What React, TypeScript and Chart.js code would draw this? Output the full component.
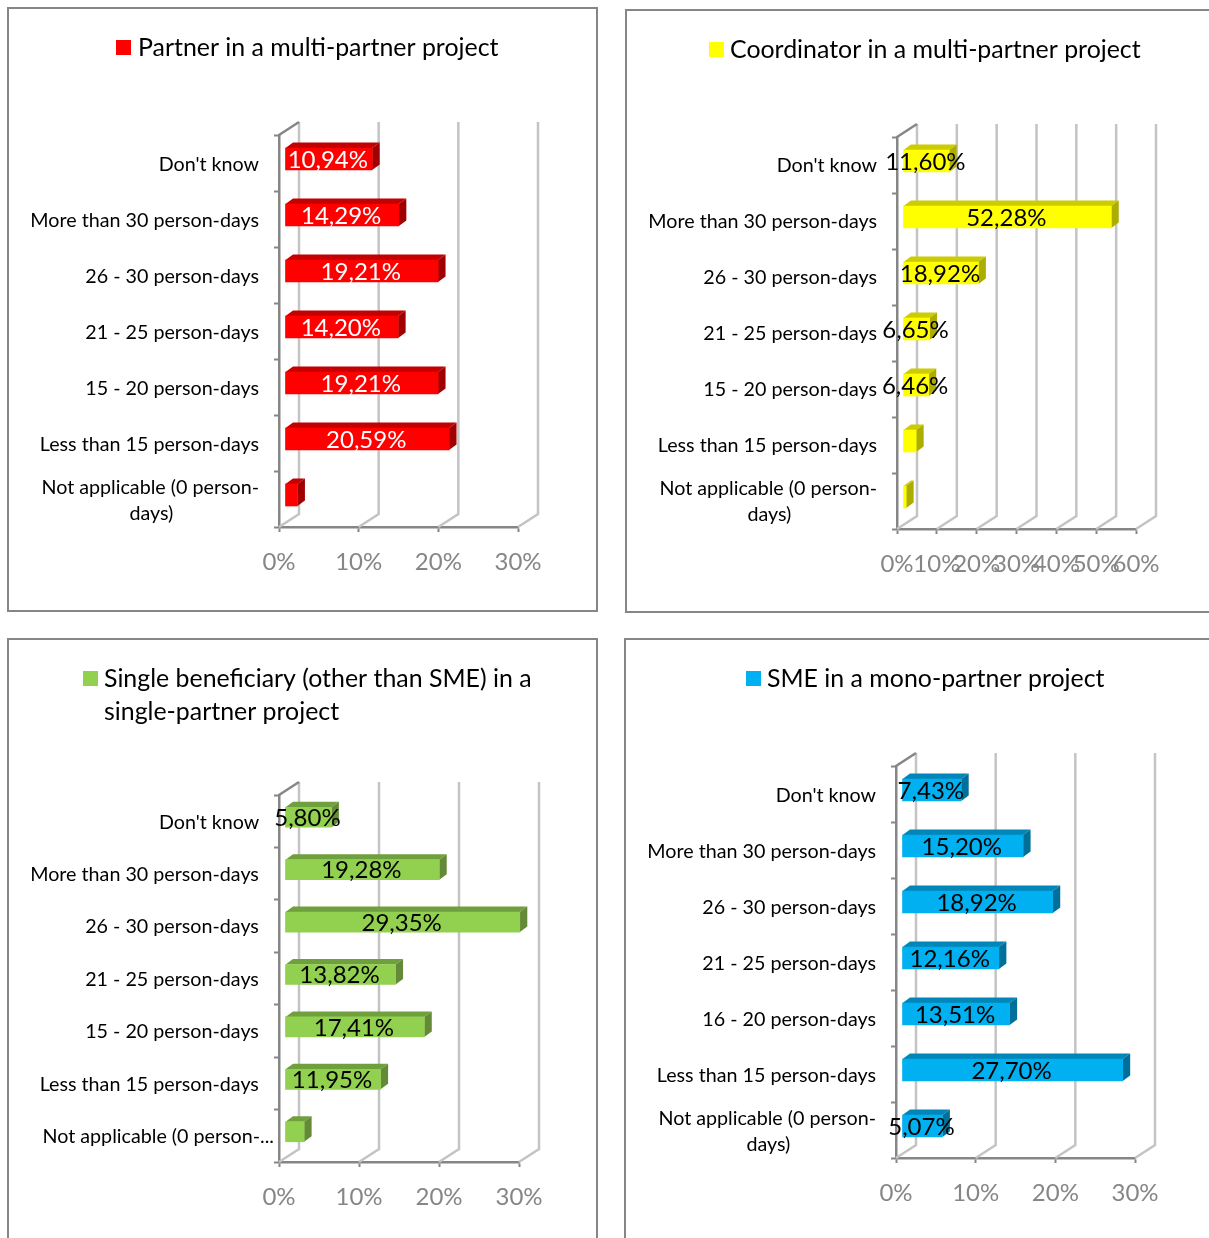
import React, { useEffect, useRef } from "react";
import { Chart, registerables } from "chart.js";

Chart.register(...registerables);

// Category labels shared by the panels, top row first.
const wrappedNotApplicable = ["Not applicable (0 person-", "days)"];
const labelsPartner = ["Don't know", "More than 30 person-days", "26 - 30 person-days", "21 - 25 person-days", "15 - 20 person-days", "Less than 15 person-days", wrappedNotApplicable];
const labelsCoordinator = labelsPartner;
const labelsSingle = ["Don't know", "More than 30 person-days", "26 - 30 person-days", "21 - 25 person-days", "15 - 20 person-days", "Less than 15 person-days", "Not applicable (0 person-..."];
const labelsSme = ["Don't know", "More than 30 person-days", "26 - 30 person-days", "21 - 25 person-days", "16 - 20 person-days", "Less than 15 person-days", wrappedNotApplicable];

// Percent shares per role; the *Shown lists say which bars carry a value label.
const valuesPartner = [10.94, 14.29, 19.21, 14.2, 19.21, 20.59, 1.56];
const shownPartner = [true, true, true, true, true, true, false];
const valuesCoordinator = [11.6, 52.28, 18.92, 6.65, 6.46, 3.3, 0.79];
const shownCoordinator = [true, true, true, true, true, false, false];
const valuesSingle = [5.8, 19.28, 29.35, 13.82, 17.41, 11.95, 2.39];
const shownSingle = [true, true, true, true, true, true, false];
const valuesSme = [7.43, 15.2, 18.92, 12.16, 13.51, 27.7, 5.07];
const shownSme = [true, true, true, true, true, true, true];

const titlePartner = ["Partner in a multi-partner project"];
const titleCoordinator = ["Coordinator in a multi-partner project"];
const titleSingle = ["Single beneficiary (other than SME) in a", "single-partner project"];
const titleSme = ["SME in a mono-partner project"];

const FONT = "Lato, 'Open Sans', sans-serif";
const AXIS_GREY = "#868686";
const WALL_GREY = "#c4c4c4";
const WALL = { dx: 20, dy: -13 };
const BAR = { dx: 6, dy: -4, depthX: 7.5, depthY: -5.5 };
const TITLE_SIZE = 24.9;
const CATEGORY_SIZE = 19.7;
const VALUE_SIZE = 24;
const NBSP = "\u00A0";

type PanelDef = {
  title: string[];
  labels: (string | string[])[];
  values: number[];
  shown: boolean[];
  max: number;
  front: string;
  top: string;
  side: string;
  valueColor: string;
  barThickness: number;
  labelShift: number;
  frame: { l: number; t: number; r: number; b: number };
  plot: { l: number; t: number; r: number; b: number };
  box: { x: number; y: number };
  textX: number;
  textY: number[];
};

const panels: PanelDef[] = [
  {
    title: titlePartner, labels: labelsPartner, values: valuesPartner, shown: shownPartner, max: 30,
    front: "#ff0000", top: "#c40000", side: "#a00000", valueColor: "#ffffff", barThickness: 22, labelShift: 2,
    frame: { l: 7, t: 7, r: 598, b: 612 }, plot: { l: 279, t: 135, r: 518, b: 527 },
    box: { x: 116, y: 40 }, textX: 138, textY: [48],
  },
  {
    title: titleCoordinator, labels: labelsCoordinator, values: valuesCoordinator, shown: shownCoordinator, max: 60,
    front: "#ffff00", top: "#cccc00", side: "#adad00", valueColor: "#000000", barThickness: 22, labelShift: 0.5,
    frame: { l: 625, t: 9, r: 1240, b: 613 }, plot: { l: 897, t: 137, r: 1136, b: 529 },
    box: { x: 709, y: 42 }, textX: 730, textY: [50],
  },
  {
    title: titleSingle, labels: labelsSingle, values: valuesSingle, shown: shownSingle, max: 30,
    front: "#92d050", top: "#709f3d", side: "#648a38", valueColor: "#000000", barThickness: 20, labelShift: 1,
    frame: { l: 7, t: 638, r: 598, b: 1260 }, plot: { l: 279, t: 795, r: 519, b: 1162 },
    box: { x: 83, y: 671 }, textX: 104, textY: [679, 712],
  },
  {
    title: titleSme, labels: labelsSme, values: valuesSme, shown: shownSme, max: 30,
    front: "#00b0f0", top: "#0086b8", side: "#006f99", valueColor: "#000000", barThickness: 22, labelShift: 2,
    frame: { l: 624, t: 638, r: 1240, b: 1260 }, plot: { l: 896, t: 766, r: 1135, b: 1158 },
    box: { x: 746, y: 671 }, textX: 767, textY: [679],
  },
];

function line(ctx: CanvasRenderingContext2D, pts: number[][], color: string) {
  ctx.beginPath();
  pts.forEach(([x, y], i) => (i ? ctx.lineTo(x, y) : ctx.moveTo(x, y)));
  ctx.strokeStyle = color;
  ctx.lineWidth = 2.5;
  ctx.stroke();
}

function poly(ctx: CanvasRenderingContext2D, pts: number[][], color: string) {
  ctx.beginPath();
  pts.forEach(([x, y], i) => (i ? ctx.lineTo(x, y) : ctx.moveTo(x, y)));
  ctx.closePath();
  ctx.fillStyle = color;
  ctx.fill();
}

// Back wall and floor of the pseudo 3D plot, hung off the value axis ticks.
const wallPlugin = {
  id: "wall",
  beforeDatasetsDraw(chart: any) {
    const { ctx, chartArea: a, scales } = chart;
    ctx.save();
    scales.x.ticks.forEach((_: any, i: number) => {
      const x = scales.x.getPixelForTick(i);
      line(ctx, [[x, a.bottom], [x + WALL.dx, a.bottom + WALL.dy], [x + WALL.dx, a.top + WALL.dy]], WALL_GREY);
    });
    line(ctx, [[a.left, a.top], [a.left + WALL.dx, a.top + WALL.dy]], AXIS_GREY);
    ctx.restore();
  },
};

// Bars sit a little behind the axis plane; their top and side faces come from each bar element.
const barDepthPlugin = {
  id: "barDepth",
  beforeDatasetDraw(chart: any, args: any) {
    const { ctx } = chart;
    const ds = chart.data.datasets[args.index];
    ctx.save();
    ctx.translate(BAR.dx, BAR.dy);
    args.meta.data.forEach((el: any) => {
      const { x, y, base, height } = el.getProps(["x", "y", "base", "height"], true);
      const t = y - height / 2;
      const b = y + height / 2;
      const { depthX: dx, depthY: dy } = BAR;
      poly(ctx, [[base, t], [base + dx, t + dy], [x + dx, t + dy], [x, t]], ds.topColor);
      poly(ctx, [[x, t], [x + dx, t + dy], [x + dx, b + dy], [x, b]], ds.sideColor);
    });
  },
  afterDatasetDraw(chart: any) {
    chart.ctx.restore();
  },
};

// Value labels centred on each bar's front face, comma decimals.
const valueLabelPlugin = {
  id: "valueLabels",
  afterDatasetsDraw(chart: any) {
    const { ctx } = chart;
    const ds = chart.data.datasets[0];
    ctx.save();
    ctx.font = `${VALUE_SIZE}px ${FONT}`;
    ctx.textAlign = "center";
    ctx.textBaseline = "middle";
    ctx.fillStyle = ds.valueColor;
    chart.getDatasetMeta(0).data.forEach((el: any, i: number) => {
      if (!ds.shown[i]) return;
      const { x, y, base } = el.getProps(["x", "y", "base"], true);
      const text = ds.data[i].toFixed(2).replace(".", ",") + "%";
      ctx.fillText(text, (x + base) / 2 + BAR.dx - 1, y + BAR.dy + 1);
    });
    ctx.restore();
  },
};

// Single-entry legend with a square swatch and left-aligned, possibly wrapped, text.
const keyPlugin = {
  id: "key",
  afterDraw(chart: any, _args: any, opts: any) {
    const { ctx } = chart;
    ctx.save();
    ctx.fillStyle = opts.color;
    ctx.fillRect(opts.boxX, opts.boxY, 15, 15);
    ctx.font = `${TITLE_SIZE}px ${FONT}`;
    ctx.fillStyle = "#000000";
    ctx.textAlign = "left";
    ctx.textBaseline = "middle";
    opts.lines.forEach((text: string, i: number) => ctx.fillText(text, opts.textX, opts.lineY[i]));
    ctx.restore();
  },
};

// Right-aligned ticks: trailing no-break spaces centre a wrapped second line under the first,
// and keep ordinary labels clear of the axis when a long truncated label runs nearly up to it.
function tickText(def: PanelDef, index: number) {
  const label = def.labels[index];
  if (Array.isArray(label)) return [label[0], label[1] + NBSP.repeat(17)];
  if (def.labels === labelsSingle && index < 6) return label + NBSP.repeat(3);
  return label;
}

function Panel({ def }: { def: PanelDef }) {
  const ref = useRef<HTMLCanvasElement>(null);
  const { frame, plot } = def;
  const width = Math.min(frame.r, 1209) - frame.l;
  const height = Math.min(frame.b, 1238) - frame.t;

  useEffect(() => {
    const xAxisHeight = 60;
    const chart = new Chart(ref.current as HTMLCanvasElement, {
      type: "bar",
      data: {
        labels: def.labels,
        datasets: [
          {
            label: def.title.join(" "),
            data: def.values,
            backgroundColor: def.front,
            barThickness: def.barThickness,
            clip: false,
            topColor: def.top,
            sideColor: def.side,
            valueColor: def.valueColor,
            shown: def.shown,
          } as any,
        ],
      },
      plugins: [wallPlugin, barDepthPlugin, valueLabelPlugin, keyPlugin],
      options: {
        indexAxis: "y",
        responsive: false,
        animation: false,
        devicePixelRatio: 1,
        layout: {
          padding: {
            top: plot.t - frame.t,
            left: 0,
            right: width - (plot.r - frame.l),
            bottom: height - (plot.b - frame.t) - xAxisHeight,
          },
        },
        scales: {
          x: {
            type: "linear",
            min: 0,
            max: def.max,
            afterFit: (s: any) => { s.height = xAxisHeight; },
            grid: { drawOnChartArea: false, drawTicks: true, tickLength: 5, tickColor: AXIS_GREY, tickWidth: 2 },
            border: { display: true, color: AXIS_GREY, width: 2.5 },
            ticks: {
              stepSize: 10,
              autoSkip: false,
              maxRotation: 0,
              padding: 16,
              color: AXIS_GREY,
              font: { family: FONT, size: VALUE_SIZE },
              callback: (v: any) => `${v}%`,
            },
          },
          y: {
            type: "category",
            offset: true,
            afterFit: (s: any) => { s.width = plot.l - frame.l; },
            grid: { offset: true, drawOnChartArea: false, drawTicks: true, tickLength: 5, tickColor: AXIS_GREY, tickWidth: 2 },
            border: { display: true, color: AXIS_GREY, width: 2.5 },
            ticks: {
              autoSkip: false,
              padding: def.labels === labelsSingle ? 0 : 15,
              labelOffset: def.labelShift,
              color: "#000000",
              font: { family: FONT, size: CATEGORY_SIZE, lineHeight: 1.33 },
              callback: (_v: any, i: number) => tickText(def, i),
            },
          },
        },
        plugins: {
          legend: { display: false },
          tooltip: { enabled: false },
          key: {
            color: def.front,
            lines: def.title,
            boxX: def.box.x - frame.l,
            boxY: def.box.y - frame.t,
            textX: def.textX - frame.l,
            lineY: def.textY.map((y) => y - frame.t),
          },
        } as any,
      },
    } as any);
    return () => chart.destroy();
  }, [def]);

  return (
    <>
      <div
        style={{
          position: "absolute",
          left: frame.l,
          top: frame.t,
          width: frame.r - frame.l,
          height: frame.b - frame.t,
          boxSizing: "border-box",
          border: `2px solid ${AXIS_GREY}`,
        }}
      />
      <canvas
        ref={ref}
        width={width}
        height={height}
        style={{ position: "absolute", left: frame.l, top: frame.t, width, height, display: "block" }}
      />
    </>
  );
}

export default function App() {
  return (
    <div style={{ position: "absolute", left: 0, top: 0, width: 1209, height: 1238, overflow: "hidden", background: "#ffffff" }}>
      {panels.map((def) => (
        <Panel key={def.title[0]} def={def} />
      ))}
    </div>
  );
}
